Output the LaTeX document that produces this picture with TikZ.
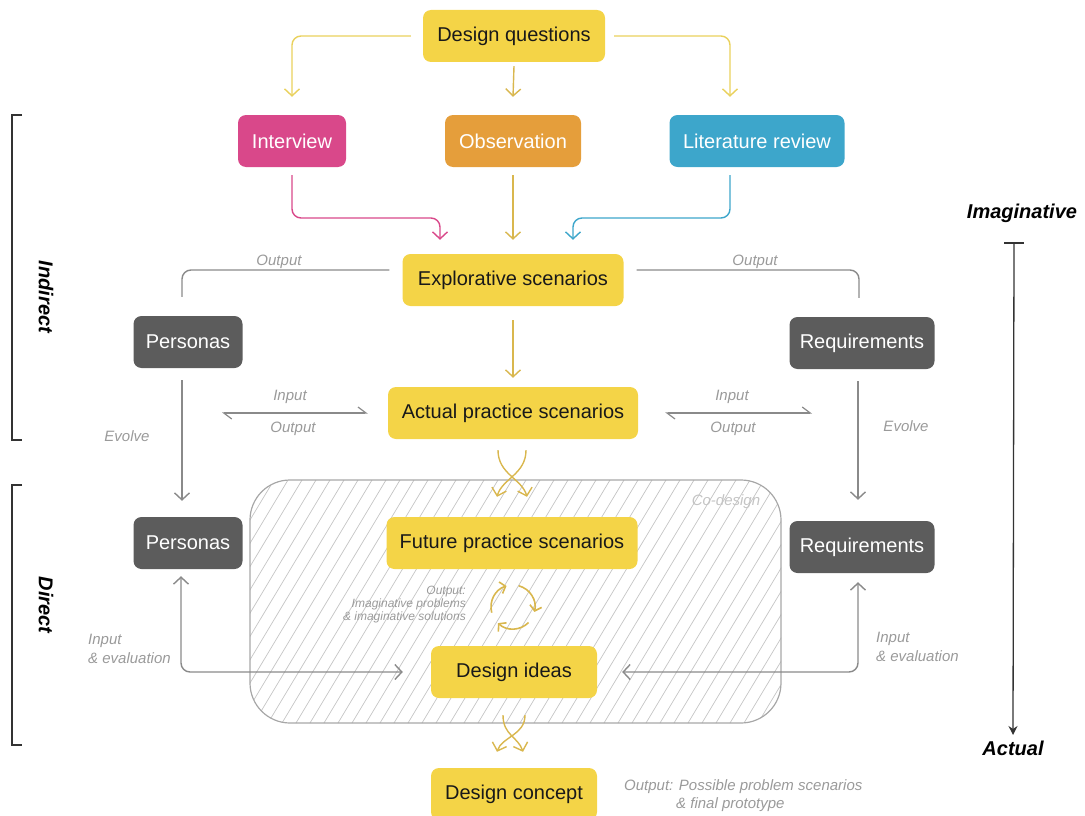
\documentclass[tikz,border=0pt]{standalone}
\usepackage{fontspec}
\setmainfont{Liberation Sans}
\usetikzlibrary{arrows.meta}
\definecolor{boxyellow}{HTML}{F4D447}
\definecolor{boxgray}{HTML}{5C5C5C}
\definecolor{cmag}{HTML}{D9488A}
\definecolor{corange}{HTML}{E59E3B}
\definecolor{cblue}{HTML}{3DA6CB}
\definecolor{ayellow}{HTML}{E9D15C}
\definecolor{atan}{HTML}{D9B74E}
\definecolor{lgray}{HTML}{8A8A8A}
\definecolor{tgray}{HTML}{9A9A9A}
\definecolor{hgray}{HTML}{C4C4C4}
\begin{document}
\begin{tikzpicture}[x=1pt,y=-1pt,
  box/.style={rounded corners=8pt, minimum height=52pt, inner sep=0pt, font=\fontsize{20}{22}\selectfont},
  ybox/.style={box, fill=boxyellow, text=black!90},
  gbox/.style={box, fill=boxgray, text=white},
  lbl/.style={font=\fontsize{15}{19}\selectfont\itshape, text=tgray, inner sep=0pt},
  side/.style={font=\fontsize{20}{22}\selectfont\bfseries\itshape, text=black, inner sep=0pt},
  barb/.tip={Straight Barb[length=7pt,width=15pt]},
  harpl/.tip={Straight Barb[left,length=8pt,width=12pt]},
  conn/.style={line width=1.4pt, rounded corners=9pt},
  yarr/.style={conn, draw=ayellow, -barb},
  tarr/.style={conn, draw=atan, -barb},
  garr/.style={conn, draw=lgray, -barb},
  gboth/.style={conn, draw=lgray, barb-barb},
  gline/.style={conn, draw=lgray},
  harp/.style={line width=1.2pt, draw=lgray, harpl-harpl},
  hatch/.style={draw=hgray, line width=0.7pt},
  bracket/.style={draw=black!80, line width=1.2pt}
]
\useasboundingbox (0,0) rectangle (1085,816);

% co-design area
\begin{scope}
  \clip[rounded corners=40pt] (250,480) rectangle (781,723);
  \foreach \i in {0,...,52} \draw[hatch] ({100+\i*14},723) -- ++(146,-243);
\end{scope}
\draw[draw=hgray!85!black, line width=1.2pt, rounded corners=40pt] (250,480) rectangle (781,723);
\node[lbl, text=hgray] (codesign) at (726,502) {Co-design};

% boxes
\node[ybox, minimum width=182pt] (dq) at (514,36) {Design questions};
\node[box, fill=cmag, text=white, minimum width=108pt] (int) at (292,141) {Interview};
\node[box, fill=corange, text=white, minimum width=136pt] (obs) at (513,141) {Observation};
\node[box, fill=cblue, text=white, minimum width=175pt] (lit) at (757,141) {Literature review};
\node[ybox, minimum width=221pt] (exp) at (513,280) {Explorative scenarios};
\node[gbox, minimum width=109pt] (per1) at (188,342) {Personas};
\node[gbox, minimum width=145pt] (req1) at (862,343) {Requirements};
\node[ybox, minimum width=250pt] (act) at (513,413) {Actual practice scenarios};
\node[gbox, minimum width=109pt] (per2) at (188,543) {Personas};
\node[gbox, minimum width=145pt] (req2) at (862,547) {Requirements};
\node[ybox, minimum width=251pt] (fut) at (512,543) {Future practice scenarios};
\node[ybox, minimum width=166pt] (idea) at (514,672) {Design ideas};
\node[ybox, minimum width=166pt] (con) at (514,794) {Design concept};

% top connectors
\draw[yarr] ([xshift=-12pt]dq.west) -| ([yshift=18pt]int.north);
\draw[yarr] ([xshift=9pt]dq.east) -| ([xshift=-27pt,yshift=18pt]lit.north);
\draw[tarr] ([yshift=-4pt]dq.south) -- ([yshift=18pt]obs.north);

\draw[conn, draw=cmag, -barb] ([yshift=-8pt]int.south) |- (440,218) -- ([xshift=-73pt,yshift=14pt]exp.north);
\draw[tarr] ([yshift=-8pt]obs.south) -- ([yshift=14pt]exp.north);
\draw[conn, draw=cblue, -barb] ([xshift=-27pt,yshift=-8pt]lit.south) |- (573,218) -- ([xshift=60pt,yshift=14pt]exp.north);

% explorative outputs
\draw[gline] ([xshift=-13pt,yshift=10pt]exp.west) -| ([xshift=-6pt,yshift=19pt]per1.north);
\draw[gline] ([xshift=13pt,yshift=10pt]exp.east) -| ([xshift=-3pt,yshift=19pt]req1.north);
\node[lbl] (o1) at (279,262) {Output};
\node[lbl] (o2) at (755,262) {Output};

\draw[tarr] ([yshift=-14pt]exp.south) -- ([yshift=9pt]act.north);

% evolve
\draw[garr] ([xshift=-6pt,yshift=-12pt]per1.south) -- ([xshift=-6pt,yshift=16pt]per2.north);
\draw[garr] ([xshift=-4pt,yshift=-12pt]req1.south) -- ([xshift=-4pt,yshift=21pt]req2.north);
\node[lbl] (ev1) at (127,436) {Evolve};
\node[lbl] (ev2) at (906,426) {Evolve};

% input / output harpoons
\coordinate (ioL) at (222,413);
\coordinate (ioR) at (812,413);
\draw[harp] (ioL) -- ([xshift=-20pt]act.west);
\draw[harp] ([xshift=27pt]act.east) -- (ioR);
\node[lbl] (i1) at (290,397) {Input};
\node[lbl] (p1) at (293,429) {Output};
\node[lbl] (i2) at (732,397) {Input};
\node[lbl] (p2) at (733,429) {Output};

% crossing arrows
\draw[tarr] ([xshift=-15pt,yshift=-11pt]act.south) .. controls +(0,24) and +(-5,-18) .. ([xshift=15pt,yshift=20pt]fut.north);
\draw[tarr] ([xshift=13pt,yshift=-11pt]act.south) .. controls +(0,24) and +(5,-18) .. ([xshift=-15pt,yshift=20pt]fut.north);
\draw[tarr] ([xshift=-11pt,yshift=-17pt]idea.south) .. controls +(0,20) and +(-5,-15) .. ([xshift=9pt,yshift=16pt]con.north);
\draw[tarr] ([xshift=11pt,yshift=-17pt]idea.south) .. controls +(0,20) and +(5,-15) .. ([xshift=-17pt,yshift=16pt]con.north);

% cycle icon
\coordinate (cyc) at (513,607);
\foreach \a in {-75,45,165}
  \draw[line width=1.6pt, draw=atan, -{Straight Barb[length=5pt,width=12pt]}] (cyc) ++(\a:22) arc[start angle=\a, end angle=\a+88, radius=22];
\node[lbl, font=\fontsize{12}{13}\selectfont\itshape, align=right, anchor=east] (cl) at (466,605) {Output:\\Imaginative problems\\\& imaginative solutions};

% input & evaluation
\draw[gboth] ([xshift=-7pt,yshift=-7pt]per2.south) |- ([xshift=-28pt]idea.west);
\draw[gboth] ([xshift=-4pt,yshift=-9pt]req2.south) |- ([xshift=25pt]idea.east);
\node[lbl, align=left, anchor=west] (ie1) at (88,649) {Input\\\& evaluation};
\node[lbl, align=left, anchor=west] (ie2) at (876,647) {Input\\\& evaluation};

% bottom output label
\node[lbl, anchor=west] (fo1) at (624,787) {Output: Possible problem scenarios};
\node[lbl, anchor=west] (fo2) at (676,805) {\& final prototype};

% brackets
\draw[bracket] (22,115) -- (12,115) -- (12,440) -- (22,440);
\draw[bracket] (22,485) -- (12,485) -- (12,745) -- (22,745);
\node[side, rotate=-90] (ind) at (46,297) {Indirect};
\node[side, rotate=-90] (dir) at (46,605) {Direct};

% axis
\node[side] (imag) at (1022,213) {Imaginative};
\node[side] (actl) at (1013,748) {Actual};
\draw[line width=1.3pt, draw=black!80] ([xshift=-18pt,yshift=-30pt]imag.center) -- ([xshift=2pt,yshift=-30pt]imag.center);
\draw[line width=1.3pt, draw=black!80, -{Stealth[length=9pt,width=9pt]}] ([xshift=-8pt,yshift=-30pt]imag.center) -- ([yshift=13pt]actl.center);
\end{tikzpicture}
\end{document}
